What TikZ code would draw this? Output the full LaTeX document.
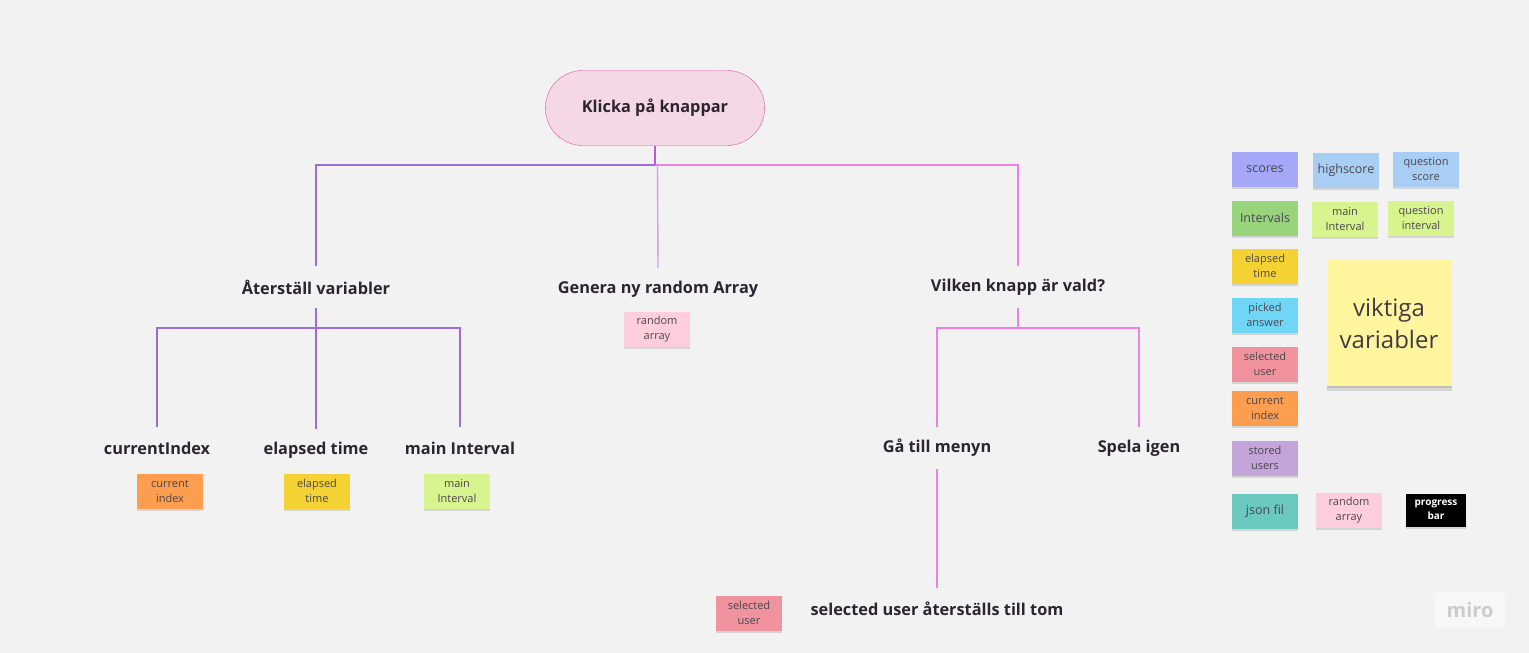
\documentclass[tikz,border=0pt]{standalone}
\usepackage{fontspec}
\setmainfont{Open Sans}
\usepackage{xcolor}
\usetikzlibrary{shapes.misc, positioning, shadows}

\definecolor{bg}{HTML}{F2F2F2}
\definecolor{ink}{HTML}{2B2530}
\definecolor{rootfill}{HTML}{F4D8E5}
\definecolor{rootline}{HTML}{E0559A}
\definecolor{stemline}{HTML}{C455DA}
\definecolor{purpline}{HTML}{9C6CDC}
\definecolor{midline}{HTML}{D69CEE}
\definecolor{pinkline}{HTML}{EC80E4}
% sticky note colours
\definecolor{nOrange}{HTML}{FD9E4F}
\definecolor{nYellow}{HTML}{F5D233}
\definecolor{nLime}{HTML}{D8F48E}
\definecolor{nRose}{HTML}{FFCEDC}
\definecolor{nRed}{HTML}{F0939E}
\definecolor{nLav}{HTML}{A5A8F8}
\definecolor{nSky}{HTML}{A9CEF4}
\definecolor{nGreen}{HTML}{97D47C}
\definecolor{nCyan}{HTML}{6FD6F6}
\definecolor{nPurple}{HTML}{C4A5D9}
\definecolor{nTeal}{HTML}{6BC9BF}
\definecolor{nPale}{HTML}{FFF59F}

\tikzset{
  lbl/.style={font=\fontsize{16.3}{19}\selectfont\bfseries, text=ink, minimum height=42pt, inner sep=0pt},
  sticky/.style={fill=#1, minimum width=66pt, minimum height=35pt, inner sep=1pt, align=center,
    font=\fontsize{11}{15}\selectfont, text=ink!85,
    drop shadow={shadow xshift=0pt, shadow yshift=-2pt, opacity=.18, fill=black!70}},
  big/.style={font=\fontsize{12.5}{15}\selectfont},
  purp/.style={draw=purpline, line width=1.4pt},
  pinkw/.style={draw=pinkline, line width=1.4pt},
}

\begin{document}
\begin{tikzpicture}[x=1pt, y=-1pt]
    \fill[bg] (0,0) rectangle (1529,653);

    % root
    \node[rounded rectangle, draw=rootline, fill=rootfill, minimum width=226pt, minimum height=75pt,
          font=\fontsize{16.3}{19}\selectfont\bfseries, text=ink] (root) at (655,108) {Klicka på knappar};

    % first level
    \node[lbl] (reset) at (316,287) {Återställ variabler};
    \node[lbl] (gen) at (658,289) {Genera ny random Array};
    \node[lbl] (which) at (1018,287) {Vilken knapp är vald?};
    \coordinate (j0) at (655,165);
    \coordinate (j1) at (657.5,165);
    \draw[draw=midline, line width=1.4pt] (j1) -- (gen.north);
    \draw[purp] (j0) -| (reset.north);
    \draw[pinkw] (j0) -| (which.north);
    \draw[draw=stemline, line width=1.4pt] (root.south) -- (j0);

    % reset branch
    \node[lbl] (cidx) at (157,448) {currentIndex};
    \node[lbl] (etime) at (316,450) {elapsed time};
    \node[lbl] (mint) at (460,448) {main Interval};
    \coordinate (j2) at (316,328);
    \draw[purp] (reset.south) -- (j2);
    \foreach \n in {cidx,etime,mint} \draw[purp] (j2) -| (\n.north);

    \node[sticky=nOrange] (s1) at (170,491) {current\\index};
    \node[sticky=nYellow] (s2) at (317,491) {elapsed\\time};
    \node[sticky=nLime] (s3) at (457,491) {main\\Interval};
    \node[sticky=nRose] (s4) at (657,329) {random\\array};

    % which branch
    \node[lbl] (menu) at (937,448) {Gå till menyn};
    \node[lbl] (again) at (1139,448) {Spela igen};
    \node[lbl] (clear) at (937,609) {selected user återställs till tom};
    \coordinate (j3) at (1018,328);
    \draw[pinkw] (which.south) -- (j3);
    \foreach \n in {menu,again} \draw[pinkw] (j3) -| (\n.north);
    \draw[pinkw] (menu.south) -- (clear.north);
    \node[sticky=nRed] (s5) at (749,613) {selected\\user};

    % legend
    \node[sticky=nLav, big] (k1) at (1265,169) {scores};
    \node[sticky=nSky, big] (k2) at (1346,170) {highscore};
    \node[sticky=nSky] (k3) at (1426,169) {question\\score};
    \node[sticky=nGreen, big] (k4) at (1265,218) {Intervals};
    \node[sticky=nLime] (k5) at (1345,219) {main\\Interval};
    \node[sticky=nLime] (k6) at (1421,218) {question\\interval};
    \node[sticky=nYellow] (k7) at (1265,266) {elapsed\\time};
    \node[sticky=nCyan] (k8) at (1265,315) {picked\\answer};
    \node[sticky=nRed] (k9) at (1265,364) {selected\\user};
    \node[sticky=nOrange] (k10) at (1265,408) {current\\index};
    \node[sticky=nPurple] (k11) at (1265,458) {stored\\users};
    \node[sticky=nTeal, big] (k12) at (1265,511) {json fil};
    \node[sticky=nRose] (k13) at (1349,510) {random\\array};
    \node[sticky=black, minimum width=60pt, minimum height=33pt, text=white,
          font=\fontsize{10}{14}\selectfont\bfseries] (k14) at (1436,510) {progress\\bar};
    \node[sticky=nPale, minimum width=125pt, minimum height=126pt,
          font=\fontsize{24}{32}\selectfont, text=ink!90,
          drop shadow={shadow xshift=0pt, shadow yshift=-5pt, opacity=.16, fill=black!70}] (key) at (1389,323) {viktiga\\variabler};

    % watermark
    \node[fill=white!35!bg, rounded corners=2pt, minimum width=70pt, minimum height=36pt,
          font=\fontsize{20}{24}\selectfont\bfseries, text=black!20] (logo) at (1470,610) {miro};
\end{tikzpicture}
\end{document}
